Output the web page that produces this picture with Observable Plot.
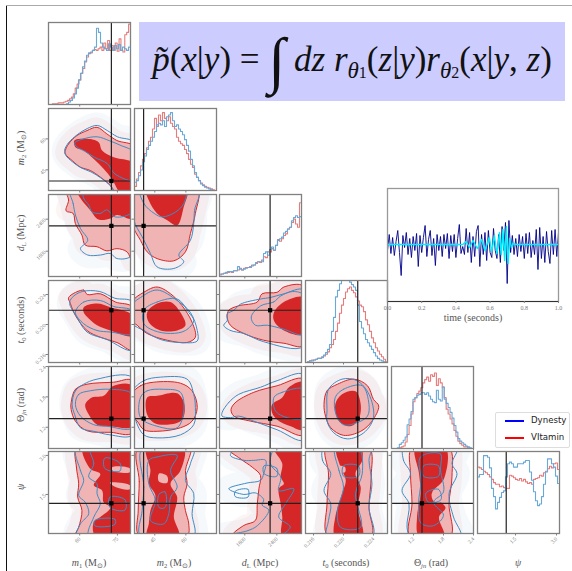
<!DOCTYPE html>
<html><head><meta charset="utf-8">
<script src="https://cdn.jsdelivr.net/npm/d3@7"></script>
<script src="https://cdn.jsdelivr.net/npm/@observablehq/plot@0.6"></script>
<style>
html,body{margin:0;padding:0;background:#fff;width:572px;height:571px;overflow:hidden}
#root{position:relative;width:572px;height:571px;font-family:"Liberation Serif",serif}
#root svg{position:absolute;overflow:visible;background:transparent;font-family:"Liberation Serif",serif}
.lab{position:absolute;font-size:10px;color:#555;white-space:nowrap;transform:translate(-50%,-50%)}
.lab sub{font-size:6.5px;vertical-align:-2px;line-height:0}
.rot{transform:translate(-50%,-50%) rotate(-90deg)}
</style></head><body><div id="root"></div>
<script>
// parameters: x/y domains (m1, m2 in solar masses; dL as (Mpc-800)/80; t0 in ms; angles in rad)
const names=["m1","m2","dL","t0","theta","psi"];
const domainX=[[47.6,80.2],[35.2,74.8],[2.1,27.7],[214.93,225.87],[0.76,2.4],[0.108,3.11]];
const domainY=[[47.6,80.2],[35,74.7],[2.1,27.7],[214.93,225.87],[0.78,2.4],[0,3.15]];
const tickValues=[[60,75],[45,60],[10,20],[216,220,224],[1.2,1.8,2.4],[1.5,3]];
const tickLabels=[["60","75"],["45","60"],["1600","2400"],["0.216","0.220","0.224"],["1.2","1.8","2.4"],["1.5","3.0"]];
const truth=[72.6,39.6,17.9,221.9,1.37,1.16];
const colX=[48,134,219,305,391,477];
const rowY=[22,108,194,280,366,451];

// histograms, height in % of panel
const histBlue0=[0,0,0,0,0,0,0,0,0,1,3,5,8,13,20,30,38,46,53,60,63,64,66,70,93,88,75,70,68,66,74,70,66,72,68,73,66,70,68,66,70];
const histRed0=[0,0,1,1,1,2,2,2,3,4,5,7,9,13,20,25,30,38,44,52,58,62,63,66,67,66,68,70,66,75,68,78,66,72,66,75,65,80,66,64,85,88,98];
const histBlue1=[10,12,18,25,35,42,50,55,60,65,72,80,82,80,85,78,90,92,95,85,78,80,75,72,68,62,55,48,38,30,22,16,12,8,6,4,3,2,1,0,0];
const histRed1=[5,14,22,30,38,45,52,60,65,75,88,78,92,85,95,88,85,90,82,78,75,65,60,57,55,50,45,38,32,28,20,16,12,9,7,5,4,3,2,1,0];
const histBlue2=[3,3,4,5,6,6,6,7,7,12,9,8,9,10,11,11,13,14,17,18,18,18,28,30,26,33,36,32,38,44,46,48,53,55,58,60,68,72,74,72,73];
const histRed2=[2,3,4,4,5,6,5,7,7,8,10,8,10,11,11,12,14,14,16,18,17,20,24,23,30,30,34,32,38,45,43,46,50,52,58,60,66,70,64,60,90];
const histBlue3=[0,1,2,2,3,4,5,5,6,9,12,16,22,38,55,80,88,96,100,100,100,100,98,95,92,88,70,50,42,35,28,24,20,16,12,8,5,3,2,1,0];
const histRed3=[0,1,2,3,3,4,5,5,7,8,10,13,18,22,28,38,48,60,70,78,86,90,92,88,85,80,75,70,68,62,52,46,38,30,24,18,14,10,7,4,1];
const histBlue4=[0,0,0,1,5,7,10,14,29,36,45,60,62,65,66,68,68,66,68,64,60,57,56,71,60,58,75,60,55,50,44,37,28,20,12,9,7,5,3,2,1,0];
const histRed4=[0,0,0,0,1,2,3,8,17,28,42,57,62,67,70,74,80,84,87,82,90,88,92,77,85,80,75,62,48,42,36,30,22,15,9,6,4,2,2,1,0,0];
const histBlue5=[69,72,72,95,95,93,80,55,45,30,38,44,50,52,69,85,87,85,81,81,85,85,85,87,89,89,75,65,51,40,34,36,45,60,75,91,91,85,81,70,61];
const histRed5=[81,80,78,76,74,72,69,66,62,60,60,57,58,56,55,55,71,70,68,66,65,67,64,66,63,61,62,60,66,67,68,71,70,74,76,79,82,80,85,86,78];

// credible contours as flat x,y lists, per parameter pair
const m1m2_R=[54.3,54.4,55.6,57.6,58.9,61.6,62.9,64,66.9,65.6,70.8,62.4,74.8,59.2,82,56,82,33,74.8,33,72.2,37.4,68.2,41.5,64.2,44.7,60.3,46.3,57,49.5,54.3,52.7];
const m1m2_r=[57.9,59.2,62.9,60,67.5,58.4,68.9,54.4,73.5,51.1,82,47.9,82,33,76.8,33,72.8,40.6,69.5,45.5,65.6,50.3,61.6,54.4,58.3,56];
const m1m2_B=[54,54.5,55.5,58,59,62,63,65,67,66.5,71,64,75,61,82,58,82,33,75,33,72.5,37,68.5,41,64.5,44,60.5,46,57,49,54.5,52];
const m1m2_b=[58,58,61.5,60,67,61,72,59,76,57,82,53,82,40,74,43,71,48,66,51,62,54,59,56];
const m1dL_R=[54.7,29.6,55.6,25.9,54.6,22.6,57.4,21.8,58.3,18.6,60.9,15,62.2,11.9,66.9,11.4,70.8,10.1,74.8,10.8,78.8,9.8,81,6.7,81,30];
const m1dL_r=[58.7,29.6,60.3,26.5,64.2,22.8,67.5,19.9,72.2,20.2,74.8,21.3,81,20.2,81,30];
const m1dL_B=[56.3,29.6,57.4,24.9,58.3,21.3,60.3,17.1,63.2,13.4,60.3,10.8,63.2,8.8,68.2,8.8,72.2,9.3,74.8,7.7,81,8.8,81,30];
const m1dL_b=[61.6,29.6,61.6,26.5,63.6,24.4,64.9,22.3,68.2,21.8,70.8,22.9,74.1,20.7,81,22.3,81,30];
const m2dL_R=[34,29.6,34,18.6,38.1,13.4,41.3,9.8,46.1,7.7,54.2,7,59.8,9.8,62.2,15.5,64.6,21.8,65.5,29.6];
const m2dL_r=[40.8,29.6,42.1,25.9,46.1,21.8,51,19.7,55.8,18.1,59,23.9,60.6,29.6];
const m2dL_B=[34.9,29.6,34.9,19.7,38.9,14.5,42.9,9.3,46.1,5.1,54.2,4.6,59,6.7,56.6,8.8,62.2,13.4,63.8,18.6,64.2,22.8,66.3,29.6];
const m2dL_b=[38.1,29.6,39.7,24.9,44.7,21.8,48.7,20.7,55.2,22.3,59,24.9,59.8,29.6];
const m1t0_R=[55.6,223.6,61.6,224.6,63,224,68.2,224.1,74.2,223,81,222.3,81,216.6,74.8,217.6,68.2,218.3,62.9,219.2,58.3,221.2,56.3,222.8];
const m1t0_r=[61.6,222.3,66.9,222.8,72.2,222.3,81,221.2,81,218.5,72.2,219.2,66.9,219.9,63.6,220.8,61.6,221.6];
const m1t0_B=[56,222.8,58.9,221,62.9,219,70.8,218,81,216.6,81,223,74,223.5,68,224.4,61,224.4,57,223.6];
const m1t0_b=[58.3,221.6,61.6,223,68.2,223.2,73.5,222.4,81,221.8,81,218.8,72.2,219,66.9,219.2,61.6,220.1];
const m2t0_R=[34,223,39.7,224.3,46.1,225,52.6,224.1,58.2,222.5,63,220.3,64.6,218.3,60.6,217.6,51,217.9,41.3,218.8,36.5,219.9,34,220.5];
const m2t0_r=[41.3,221.6,46.1,222.8,52.6,223,57.4,221.6,59.8,219.9,55.8,219.2,47.7,219.2,42.1,220.3];
const m2t0_B=[34.5,220.1,39.7,219.2,47.7,218,57.4,217.6,65.5,217.8,65.5,219.2,62.2,221.6,55.8,223.2,46.1,224.6,38.1,223.6,34.5,222.7];
const m2t0_b=[39.7,221.9,46.1,223,55.8,223.4,61.4,221.6,63.8,220.5,59.8,219.2,52.6,218.8,44.5,219.2,39.7,220.1];
const dLt0_R=[4.5,221,5,221.9,8.1,222.5,13.9,223,15.4,224.1,20.1,224.3,22.2,225,28.4,225.1,28.4,217.2,22.2,217.5,15.9,217.9,9.7,218.8,5.5,219.9];
const dLt0_r=[19.1,221.6,22.2,223,28.4,223.6,28.4,218.7,22.2,219.2,19.1,220.5];
const dLt0_B=[3.4,219.9,5.5,219.2,9.7,218.8,15.9,217.7,28.4,217.1,28.4,224.6,22.2,224.1,18,223.6,14.9,223.4,8.6,222.7,6.6,221.9,4.5,221.4,4.5,220.5];
const dLt0_b=[15,222.5,19,223,21.2,223.8,25,224.4,28.4,223.9,28.4,218.7,22,219.4,17,219.9,13.3,219.9,12,221];
const m1th_R=[56.6,1.69,58.3,1.95,62.9,2.05,73.5,2.09,81,2.12,81,1.09,72.2,1.1,62.9,1.13,58.3,1.32,56.6,1.55];
const m1th_r=[62.2,1.65,64.9,1.79,69.5,1.82,73.5,2.02,81,2.02,81,1.22,72.2,1.22,66.9,1.25,63.6,1.45];
const m1th_B=[57,1.65,58.3,1.92,61.6,2.05,66.9,2.15,81,2.18,81,1.05,72,1.05,65.6,1.12,60.3,1.19,58,1.45];
const m1th_b=[58.3,1.65,59.6,1.85,64.2,1.92,72.2,1.95,81,1.85,81,1.19,70.8,1.22,65.6,1.25,60.3,1.42];
const m2th_R=[34,1.85,38.1,2.02,44.5,2.09,57.4,2.07,63,1.92,65.5,1.59,63,1.32,57.4,1.19,46.1,1.12,39.7,1.15,36.5,1.32,34,1.42];
const m2th_r=[41.3,1.79,46.1,1.82,55.8,1.87,59.3,1.65,58.2,1.35,51,1.25,44.5,1.29,41.3,1.45];
const m2th_B=[34.5,1.92,39.7,2.12,47.7,2.19,60.6,2.15,63.8,1.85,64.6,1.59,63.8,1.25,57.4,1.05,46.1,0.99,39.7,1.05,35,1.45];
const m2th_b=[38.1,1.79,41.3,1.92,49.3,1.95,57.4,1.89,59,1.52,55.8,1.19,46.1,1.22,38.1,1.39];
const dLth_R=[5.7,1.55,7.1,1.69,12.8,1.89,20.1,2.02,28.4,2.15,28.4,1.05,20.1,1.22,11.8,1.32,6.6,1.42];
const dLth_r=[18.5,1.65,21.7,1.79,23.8,1.99,28.4,2.09,28.4,1.15,24.3,1.22,20.1,1.35,18.5,1.49];
const dLth_B=[2.9,1.49,5,1.69,8.1,1.85,14.9,1.99,20.1,2.12,28.4,2.24,28.4,0.95,20.1,1.15,12.8,1.32,8.1,1.42,5.5,1.39,2.9,1.42];
const dLth_b=[19.1,1.79,21.7,1.89,28.4,1.95,28.4,1.39,23.2,1.39,19.6,1.52];
const t0th_R=[217.4,1.65,217.8,1.92,219.2,2.05,221.4,2.15,223.2,2.02,224,1.75,224.7,1.62,223.8,1.32,222.3,1.12,220,1.04,218.3,1.19,217.6,1.42];
const t0th_r=[218.9,1.65,219.8,1.85,221.6,1.91,222.3,1.65,222,1.35,220.9,1.22,219.4,1.32];
const t0th_B=[217.8,1.52,218,1.95,219.8,2.15,221.8,2.12,223.4,1.85,224,1.39,222.7,1.09,220.5,0.97,218.7,1.09,217.8,1.32];
const t0th_b=[218.9,1.79,220,1.95,222.5,2.02,223.4,1.65,223.2,1.42,221.8,1.29,220,1.25,219,1.45];
const m1ps_R=[58.9,3.3,58.7,2.55,59.6,1.91,59.2,1.4,60.9,0.88,59.6,0.24,58.3,-0.1,81,-0.1,81,3.3];
const m1ps_r=[61.3,3.3,64.2,2.49,68.2,2.29,65.6,1.85,68.9,1.65,69.5,1.2,72.2,1,68.2,0.63,65.6,0.44,66.2,-0.1,81,-0.1,81,3.3];
const m1ps_B=[58.7,3.3,60.3,2.42,61.6,2.04,59.6,1.46,62.2,1.2,63.6,0.76,60.3,0.37,58.9,-0.1,81,-0.1,81,3.3];
const m1ps_b=[64.2,3.3,65.6,2.68,63.6,2.17,66.9,1.91,66.9,1.53,68.2,1.14,65.6,0.63,63.6,-0.1,81,-0.1,81,3.3];
const m2ps_R=[37,3.3,37.5,2,37,0.9,37.5,-0.1,60.6,-0.1,61.4,0.37,59.8,0.88,59,1.4,60.6,1.91,59.8,2.42,62.2,3.06,62.5,3.3];
const m2ps_r=[41,3.3,42.9,2.42,42.1,1.91,45.3,1.46,42.9,0.88,42.1,0.37,41.3,-0.1,56.6,-0.1,54.2,0.63,55.8,1.4,52.6,1.91,57.4,2.42,59,3.3];
const m2ps_B=[39,3.3,39.7,1.78,38.9,0.88,38.1,-0.1,63.8,-0.1,63,0.76,63.8,1.53,59.8,2.04,62.2,2.68,63.8,3.3];
const m2ps_b=[42.1,2.81,46.1,2.94,55.8,3,52.6,2.42,55.8,1.78,52.6,1.4,51.8,0.76,49.3,0.37,42.9,0.5,45.3,1.27,42.1,1.91];
const dLps_R=[4.5,3.3,8.6,2.87,12.3,2.55,14.9,2.23,14.4,1.72,13.9,1.14,13.3,0.5,9.7,0.31,6,-0.1,28.4,-0.1,28.4,3.3];
const dLps_r=[19.1,3.3,21.7,2.68,21.2,2.17,22.2,1.91,20.6,1.72,21.2,1.14,21.7,0.63,21.7,-0.1,28.4,-0.1,28.4,3.3];
const dLps_B=[5.5,3,9.7,2.81,12.8,2.81,16.5,2.81,15.9,2.3,14.9,2.04,10.7,1.94,5,1.72,9.7,1.5,13.3,1.56,15.9,1.3,15.4,1.09,17.5,0.9,13.9,0.3,10.7,0.1,3,-0.1,28.4,-0.1,28.4,3.3,8,3.3];
const dLps_b=[19.6,3.3,18,2.68,21.2,2.17,20.6,1.65,25.3,1.72,22.7,1.14,20.6,0.63,24.2,0.25,21.7,-0.1,28.4,-0.1,28.4,3.3];
const t0ps_R=[217.7,3.3,218,2.3,217.8,1.14,217.9,-0.1,223.7,-0.1,223.4,1.01,223.7,2.2,223.4,3.3];
const t0ps_r=[219.1,3.3,219.6,2.55,220.3,2.04,219.8,1.53,218.9,0.63,218.9,-0.1,222.5,-0.1,221.9,1.01,222.3,1.78,221.6,2.3,222.5,2.81,222.3,3.3];
const t0ps_B=[217.4,3.3,217.2,2.81,218.3,2.3,217.4,1.65,218.3,1.14,218,0.5,217.8,-0.1,223.9,-0.1,223.4,1.01,223.8,1.91,223.4,2.81,223.6,3.3];
const t0ps_b=[218.9,3.3,219.4,2.42,220,1.78,219.2,0.88,219.6,0.24,222.3,0.24,221.6,1.53,222.5,2.3,222,3.3];
const thps_R=[1.17,3.3,1.14,2.3,1.17,1.14,1.13,-0.1,1.94,-0.1,1.91,1.14,1.97,2.2,1.91,3.3];
const thps_r=[1.24,3.3,1.31,2.3,1.34,1.53,1.27,0.63,1.31,-0.1,1.81,-0.1,1.71,0.63,1.84,1,1.57,1.53,1.81,2.1,1.84,3.3];
const thps_B=[1.01,3.3,1,2.81,1.14,2.3,0.97,1.65,1.11,1.14,1.07,0.24,1.14,-0.1,2.14,-0.1,2,0.63,1.91,1.53,2.07,2.3,1.97,2.68,2.07,3.3];
const thps_b=[1.34,2.94,1.74,3.06,1.74,2.44,1.8,1.6,1.6,1.2,1.8,0.7,1.6,0.3,1.35,0.4,1.3,1.1,1.35,2];

// lighter gaps inside the dense region, and the extra small blue loops, in the psi row
const m1ps_gaps=[[73,2.55,80,2.5,80,2.35,73,2.42],[72,1.95,80,1.85,80,1.7,74,1.8],[64,1.6,69,1.55,69,1.4,64,1.45]];
const m1ps_loops=[[70,2.9,76,2.7,76,2.4,70,2.5],[72,1.4,78,1.3,78,0.9,72,1],[66,0.5,74,0.55,74,0.35,66,0.3]];
const m2ps_gaps=[[47,2.3,51,2.2,51,1.95,47,2]];
const m2ps_loops=[[47,1.5,50,1.6,50,1,47,1]];
const dLps_loops=[[7,1.62,11,1.7,11,1.4,7,1.42],[16,2.6,20,2.5,20,2.2,16,2.3]];
const t0ps_gaps=[[219.2,2.6,220.2,2.55,220.2,2.35,219.2,2.4]];
const t0ps_loops=[[220,2.6,222,2.6,222,2.2,220,2.2]];
const thps_gaps=[[1.57,1.55,1.75,1.5,1.75,1.2,1.6,1.25]];
const thps_loops=[[1.45,1.55,1.7,1.7,1.75,1.3,1.5,1.2],[1.4,2.6,1.7,2.6,1.7,2.2,1.4,2.2]];

const grid=[[0,1,m1m2_R,m1m2_r,m1m2_B,m1m2_b],[0,2,m1dL_R,m1dL_r,m1dL_B,m1dL_b],[1,2,m2dL_R,m2dL_r,m2dL_B,m2dL_b],
[0,3,m1t0_R,m1t0_r,m1t0_B,m1t0_b],[1,3,m2t0_R,m2t0_r,m2t0_B,m2t0_b],[2,3,dLt0_R,dLt0_r,dLt0_B,dLt0_b],
[0,4,m1th_R,m1th_r,m1th_B,m1th_b],[1,4,m2th_R,m2th_r,m2th_B,m2th_b],[2,4,dLth_R,dLth_r,dLth_B,dLth_b],[3,4,t0th_R,t0th_r,t0th_B,t0th_b],
[0,5,m1ps_R,m1ps_r,m1ps_B,m1ps_b,m1ps_gaps,m1ps_loops],[1,5,m2ps_R,m2ps_r,m2ps_B,m2ps_b,m2ps_gaps,m2ps_loops],[2,5,dLps_R,dLps_r,dLps_B,dLps_b,[],dLps_loops],[3,5,t0ps_R,t0ps_r,t0ps_B,t0ps_b,t0ps_gaps,t0ps_loops],[4,5,thps_R,thps_r,thps_B,thps_b,thps_gaps,thps_loops]];
const hists=[[histBlue0,histRed0],[histBlue1,histRed1],[histBlue2,histRed2],[histBlue3,histRed3],[histBlue4,histRed4],[histBlue5,histRed5]];

// waveform (arbitrary strain units)
const noise=[-6,10,-9,7,-11,3,14,-8,-31,9,-3,12,-10,6,-13,8,-6,11,-22,9,-8,7,19,-12,5,14,-11,6,-21,10,-6,8,-12,10,-4,11,-14,9,-7,10,-13,6,20,-9,-2,-10,16,-8,12,-18,8,-12,13,19,-22,10,-10,12,-16,14,-8,-13,16,-6,-14,10,-18,18,-6,22,-39,24,-8,9,-10,6,-12,10,-7,8,-14,11,-9,12,-13,4,-10,15,-25,17,-14,8,-18,13,-7,-19,14,-10,15,-12,12];
const signalT=[0,0.4,0.44,0.46,0.48,0.5,0.525,0.55,0.57,0.595,0.61,0.625,0.64,0.655,0.665,0.675,0.685,0.695,0.705,0.715,0.725,0.735,0.75,1];
const signalV=[0,0,0,3,-3,4,-4,5,-6,7,-7,9,-9,12,-10,15,-16,18,-19,6,-3,1,0,0];
const timeTicks=[0,0.2,0.4,0.6,0.8,1];

const BLUE="#3f8cc4",RED="#d62728",HB="#6aa8d6",HR="#e67c7c",SP="#808080",PINK="#f0b4b4";
const root=document.getElementById("root");
const M=25;
const pairs=a=>d3.range(0,a.length,2).map(i=>({x:a[i],y:a[i+1]}));
function place(svg,l,t){svg.style.left=l+"px";svg.style.top=t+"px";root.appendChild(svg);}
function axes(c,r,isHist){
  const fmt=(i,show)=>show?(d=>tickLabels[i][tickValues[i].indexOf(d)]):(()=>"");
  const style={tickSize:2.5,stroke:SP,fill:"#777",fontSize:5.5,label:null};
  const out=[Plot.axisX({...style,ticks:tickValues[c],tickFormat:fmt(c,r===5),tickRotate:-45,tickPadding:2})];
  if(!isHist) out.push(Plot.axisY({...style,ticks:tickValues[r],tickFormat:fmt(r,c===0),tickRotate:-45,tickPadding:1}));
  return out;
}
function panel(c,r,yDomain,marks){
  const svg=Plot.plot({width:82+2*M,height:82+2*M,margin:M,x:{domain:domainX[c],axis:null},y:{domain:yDomain,axis:null},marks});
  place(svg,colX[c]-M,rowY[r]-M);
}
// 2-D panels
for(const [c,r,R,ri,B,bi,gaps=[],loops=[]] of grid){
  const line=(d,o)=>Plot.line(pairs(d),{x:"x",y:"y",curve:"catmull-rom-closed",clip:"frame",...o});
  panel(c,r,domainY[r],[
    line(B,{stroke:"#7fb0da",strokeOpacity:.07,strokeWidth:26}),
    line(R,{stroke:"#ee8a8a",strokeOpacity:.09,strokeWidth:20}),
    line(R,{fill:PINK,stroke:"none"}),
    line(ri,{fill:RED,stroke:"none"}),
    ...gaps.map(g=>line(g,{fill:PINK,stroke:"none"})),
    line(R,{stroke:RED,strokeWidth:1}),
    line(B,{stroke:BLUE,strokeWidth:1}),
    line(bi,{stroke:BLUE,strokeWidth:1}),
    ...loops.map(g=>line(g,{stroke:BLUE,strokeWidth:1})),
    Plot.ruleX([truth[c]],{stroke:"#222",strokeWidth:1.2}),
    Plot.ruleY([truth[r]],{stroke:"#222",strokeWidth:1.2}),
    Plot.dot([{x:truth[c],y:truth[r]}],{x:"x",y:"y",symbol:"square",r:2.4,fill:"#000"}),
    ...axes(c,r,false),
    Plot.frame({stroke:SP,strokeWidth:1.3})
  ]);
}
// diagonal histograms
hists.forEach(([b,rd],c)=>{
  const [lo,hi]=domainX[c];
  const series=a=>a.map((v,i)=>({x:lo+(i+.5)*(hi-lo)/a.length,y:v}));
  panel(c,c,[0,100],[
    Plot.line(series(rd),{x:"x",y:"y",curve:"step",stroke:HR,strokeWidth:1.1,clip:"frame"}),
    Plot.line(series(b),{x:"x",y:"y",curve:"step",stroke:HB,strokeWidth:1.1,clip:"frame"}),
    Plot.ruleX([truth[c]],{stroke:"#222",strokeWidth:1.2}),
    ...axes(c,c,true),
    Plot.frame({stroke:SP,strokeWidth:1.3})
  ]);
});
// waveform
const W=171,H=113;
const ts=noise.map((v,i)=>({t:i/100,v}));
const sg=signalT.map((t,i)=>({t,v:signalV[i]}));
const wave=Plot.plot({width:W+2*M,height:H+2*M,margin:M,x:{domain:[0,1],axis:null},y:{domain:[-57,56],axis:null},marks:[
  Plot.line(ts,{x:"t",y:"v",stroke:"#00008b",strokeWidth:1,strokeOpacity:.9}),
  Plot.line(sg,{x:"t",y:"v",stroke:"#00f0ff",strokeWidth:1.4}),
  Plot.frame({stroke:"#999",strokeWidth:1.3}),
  Plot.ruleY([-57],{stroke:"#333",strokeWidth:1}),
  Plot.axisX({anchor:"bottom",ticks:timeTicks,tickFormat:d=>d.toFixed(1),tickSize:2,stroke:SP,fill:"#777",fontSize:6,label:null,tickPadding:2})
]});
place(wave,387-M,188-M);

function html(tag,css,inner){const e=document.createElement(tag);e.style.cssText=css;e.innerHTML=inner;root.appendChild(e);return e;}
// figure edges
html("div","position:absolute;left:6px;top:5px;width:1.4px;height:566px;background:#111","");
html("div","position:absolute;left:6px;top:5px;width:566px;height:1px;background:#aaa","");
// formula box
const subCss='style="font-size:23px;vertical-align:-7px;line-height:0"';
html("div",'position:absolute;left:139px;top:22px;width:426px;height:79px;background:#ccccff;color:#111;font-family:"Liberation Serif",serif;font-size:35px;line-height:76px;white-space:nowrap;text-align:center',
 `<i>p̃</i>(<i>x</i>|<i>y</i>) = <span style="font-size:62px;vertical-align:-10px;line-height:0"><i>∫</i></span> <i>dz r</i><sub ${subCss}><i>θ</i><span style="font-size:16px">1</span></sub>(<i>z</i>|<i>y</i>)<i>r</i><sub ${subCss}><i>θ</i><span style="font-size:16px">2</span></sub>(<i>x</i>|<i>y</i>, <i>z</i>)`);
// axis labels
const xLabels=[[89,'<i>m</i><sub>1</sub> (M<sub>⊙</sub>)'],[174,'<i>m</i><sub>2</sub> (M<sub>⊙</sub>)'],[260,'<i>d</i><sub>L</sub> (Mpc)'],[346,'<i>t</i><sub>0</sub> (seconds)'],[431,'Θ<sub><i>jn</i></sub> (rad)'],[518,'<i>ψ</i>']];
xLabels.forEach(([x,t])=>html("div",`left:${x}px;top:562px`,t).className="lab");
const yLabels=[[148,xLabels[1][1]],[233,xLabels[2][1]],[320,xLabels[3][1]],[405,xLabels[4][1]],[487,xLabels[5][1]]];
yLabels.forEach(([y,t])=>html("div",`left:20px;top:${y}px`,t).className="lab rot");
html("div","left:473px;top:317px",'time (seconds)').className="lab";
// legend
html("div",'position:absolute;left:495px;top:412px;width:75px;height:36px;background:#fff;border:1px solid #ddd;border-radius:2px;box-sizing:border-box','');
[["Dynesty","#0000ff",421],["VItamin","#ff0000",438]].forEach(([t,col,y])=>{
  html("div",`position:absolute;left:505px;top:${y-1}px;width:19px;height:2.4px;background:${col}`,"");
  html("div",`position:absolute;left:531px;top:${y-7}px;font:8.6px/13px "DejaVu Sans",sans-serif;color:#222`,t);
});
</script></body></html>
